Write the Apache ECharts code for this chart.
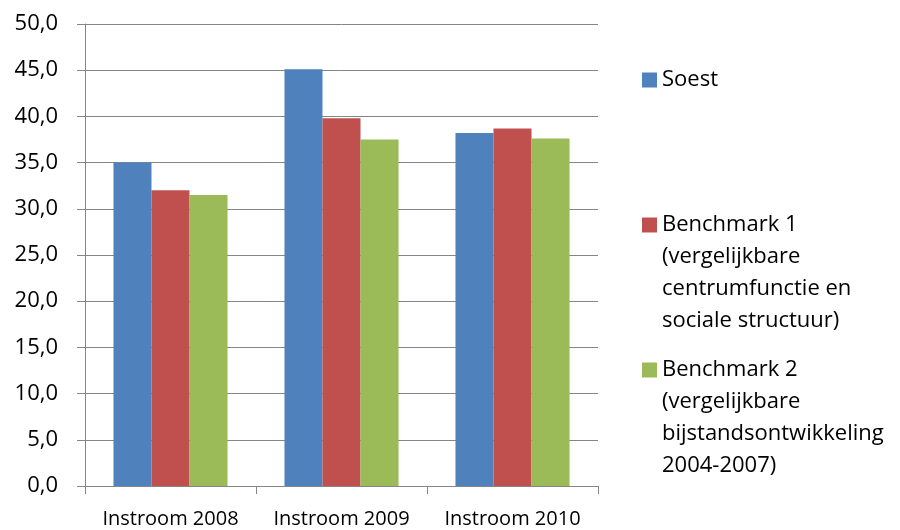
<!DOCTYPE html>
<html>
<head>
<meta charset="utf-8">
<script src="https://cdn.jsdelivr.net/npm/echarts@6/dist/echarts.min.js"></script>
<style>html,body{margin:0;padding:0;background:#fff}#c{width:900px;height:530px}</style>
</head>
<body>
<div id="c"></div>
<script>
var categories = ['Instroom 2008', 'Instroom 2009', 'Instroom 2010'];
var seriesNames = [
  'Soest',
  'Benchmark 1\n(vergelijkbare\ncentrumfunctie en\nsociale structuur)',
  'Benchmark 2\n(vergelijkbare\nbijstandsontwikkeling\n2004-2007)'
];
var soest = [35.0, 45.1, 38.2];
var benchmark1 = [32.0, 39.8, 38.7];
var benchmark2 = [31.5, 37.5, 37.6];
var colors = ['#4F81BD', '#C0504D', '#9BBB59'];

var FONT = 'Open Sans';
var LH = 32;
var SQ = 15;
function legendFor(i, top, lines) {
  var h = lines * LH;
  var y0 = (LH - SQ) / 2;
  // square aligned with the first text line; extra move-to points extend the icon box
  var icon = 'path://M0,0 M0,' + h + ' M0,' + y0 + ' L' + SQ + ',' + y0 + ' L' + SQ + ',' + (y0 + SQ) + ' L0,' + (y0 + SQ) + ' Z';
  return {
    data: [{name: seriesNames[i], icon: icon}],
    left: 642,
    top: top,
    orient: 'vertical',
    itemWidth: SQ,
    itemHeight: h,
    itemGap: 0,
    padding: 0,
    selectedMode: false,
    textStyle: {fontFamily: FONT, fontSize: 22, color: '#000', lineHeight: LH}
  };
}

var chart = echarts.init(document.getElementById('c'), null, {renderer: 'canvas'});
chart.setOption({
  animation: false,
  color: colors,
  grid: {left: 85, right: 302, top: 24, bottom: 44, containLabel: false},
  legend: [
    legendFor(0, 80 - LH / 2, 1),
    legendFor(1, 225 - LH / 2, 4),
    legendFor(2, 370 - LH / 2, 4)
  ],
  xAxis: {
    type: 'category',
    data: categories,
    axisLine: {lineStyle: {color: '#868686', width: 1}},
    axisTick: {show: true, length: 8, lineStyle: {color: '#868686'}},
    axisLabel: {fontFamily: FONT, fontSize: 20, color: '#000', margin: 23, interval: 0, hideOverlap: false}
  },
  yAxis: {
    type: 'value',
    min: 0, max: 50, interval: 5,
    axisLine: {show: true, lineStyle: {color: '#868686', width: 1}},
    axisTick: {show: true, length: 8, lineStyle: {color: '#868686'}},
    splitLine: {lineStyle: {color: '#868686', width: 1}},
    axisLabel: {
      fontFamily: FONT, fontSize: 22, color: '#000', margin: 27,
      formatter: function (v) { return v.toFixed(1).replace('.', ','); }
    }
  },
  series: [
    {name: seriesNames[0], type: 'bar', data: soest, barGap: '0%', barCategoryGap: '33.3%'},
    {name: seriesNames[1], type: 'bar', data: benchmark1, barGap: '0%', barCategoryGap: '33.3%'},
    {name: seriesNames[2], type: 'bar', data: benchmark2, barGap: '0%', barCategoryGap: '33.3%'}
  ]
});
</script>
</body>
</html>
